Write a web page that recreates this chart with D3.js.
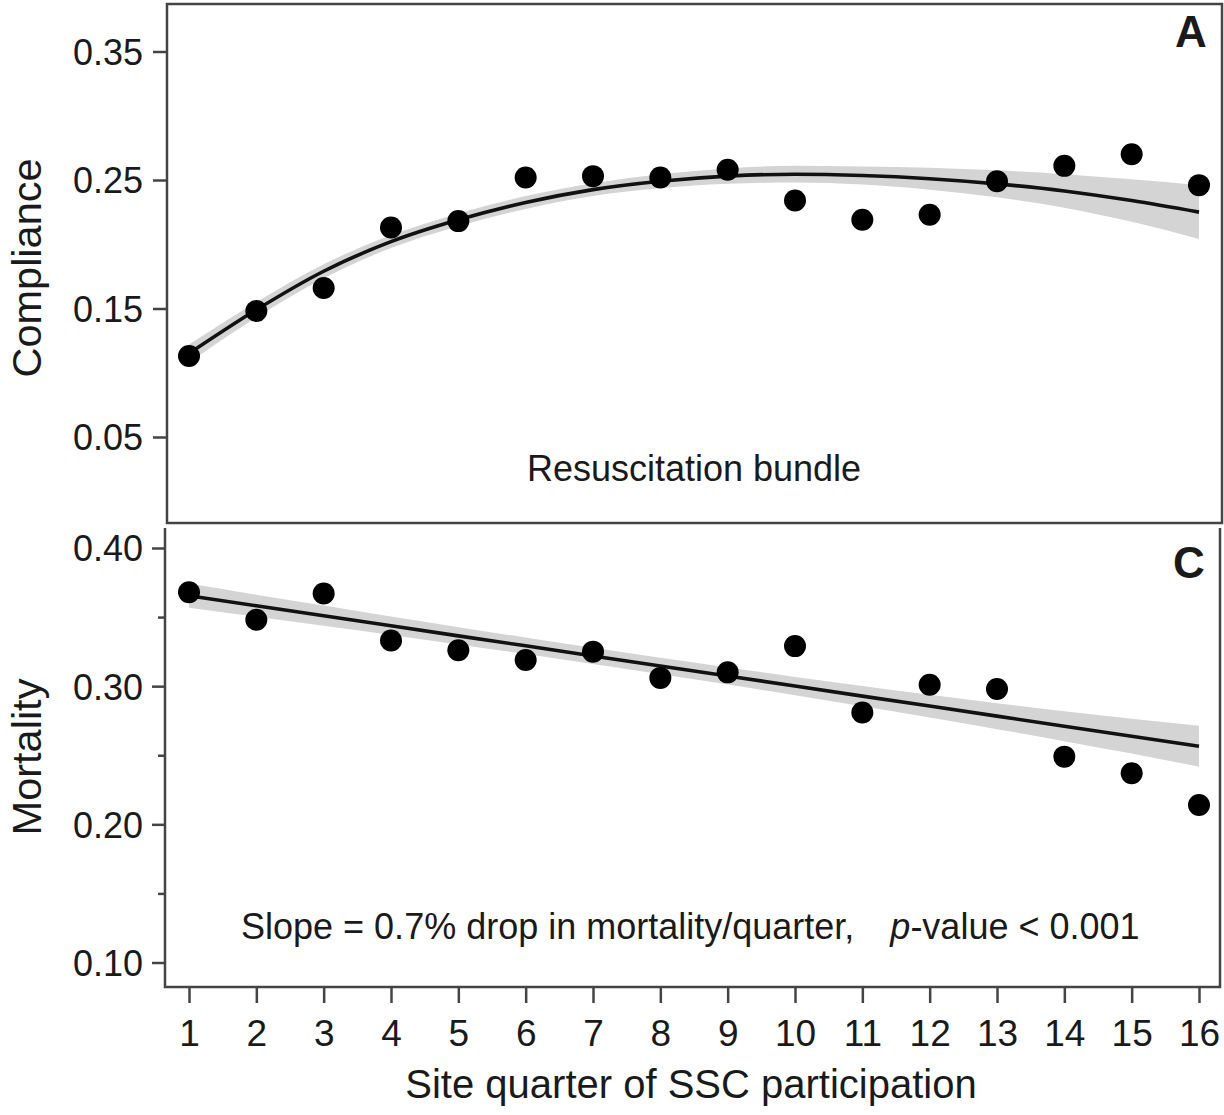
<!DOCTYPE html>
<html><head><meta charset="utf-8">
<script src="https://cdn.jsdelivr.net/npm/d3@7/dist/d3.min.js"></script>
<style>
body{margin:0;background:#fff}
text{font-family:"Liberation Sans",Arial,Helvetica,sans-serif;fill:#1a1a1a}
</style>
</head><body>
<svg id="chart" width="1224" height="1115"></svg>
<script>
// ---------- data ----------
const quarters = [1,2,3,4,5,6,7,8,9,10,11,12,13,14,15,16];
const complianceObserved = [0.113,0.148,0.166,0.213,0.218,0.252,0.253,0.252,0.258,0.234,0.219,0.223,0.249,0.261,0.270,0.246];
const complianceFit      = [0.115,0.149,0.179,0.202,0.219,0.2325,0.2425,0.249,0.253,0.2545,0.2535,0.251,0.247,0.2415,0.234,0.225];
const complianceBandHalf = [0.007,0.006,0.0055,0.005,0.005,0.005,0.005,0.0055,0.006,0.0065,0.007,0.0085,0.0105,0.013,0.0165,0.021];
const mortalityObserved  = [0.368,0.348,0.367,0.333,0.326,0.319,0.325,0.306,0.310,0.329,0.281,0.301,0.298,0.249,0.237,0.214];
const mortalityFit       = [0.3655,0.3582,0.3510,0.3437,0.3364,0.3292,0.3219,0.3146,0.3074,0.3001,0.2928,0.2856,0.2783,0.2710,0.2638,0.2565];
const mortalityBandHalf  = [0.0088,0.0080,0.0073,0.0067,0.0063,0.0060,0.0059,0.0060,0.0062,0.0066,0.0073,0.0082,0.0094,0.0108,0.0126,0.0148];
const complianceTicks = [0.05,0.15,0.25,0.35];
const mortalityTicks = [0.10,0.20,0.30,0.40];
const mortalityMinorTicks = [0.15,0.25,0.35];
const xTitle = "Site quarter of SSC participation";
const topTitle = "Compliance";
const bottomTitle = "Mortality";
const topNote = "Resuscitation bundle";

// ---------- layout ----------
const svg = d3.select("#chart");
const F = '"Liberation Sans",Arial,Helvetica,sans-serif';
const x = d3.scaleLinear().domain([1,16]).range([189,1199]);
const yTop = d3.scaleLinear().domain([0.05,0.35]).range([437,51.5]);
const yBot = d3.scaleLinear().domain([0.10,0.40]).range([962.5,548]);

function panel(yScale, obs, fit, half, curve){
  const g = svg.append("g");
  const rows = quarters.map((q,i)=>({q, o:obs[i], f:fit[i], h:half[i]}));
  g.append("path").datum(rows)
    .attr("d", d3.area().x(d=>x(d.q)).y0(d=>yScale(d.f-d.h)).y1(d=>yScale(d.f+d.h)).curve(d3.curveMonotoneX))
    .attr("fill","#d4d4d4");
  g.append("path").datum(rows)
    .attr("d", d3.line().x(d=>x(d.q)).y(d=>yScale(d.f)).curve(curve))
    .attr("fill","none").attr("stroke","#111").attr("stroke-width",3.6);
  g.selectAll("circle").data(rows).join("circle")
    .attr("cx",d=>x(d.q)).attr("cy",d=>yScale(d.o)).attr("r",11).attr("fill","#000");
}

// ---------- top panel ----------
svg.append("rect").attr("x",167).attr("y",4).attr("width",1055).attr("height",519)
  .attr("fill","none").attr("stroke","#444").attr("stroke-width",2.5);
panel(yTop, complianceObserved, complianceFit, complianceBandHalf, d3.curveMonotoneX);
const axT = svg.append("g").attr("transform","translate(167,0)")
  .call(d3.axisLeft(yTop).tickValues(complianceTicks).tickFormat(d3.format(".2f")).tickSize(14).tickPadding(10));
axT.select(".domain").remove();
axT.selectAll("line").attr("stroke","#444").attr("stroke-width",2.5);
axT.selectAll("text").attr("font-size",36).attr("font-family",F).attr("fill","#1a1a1a").attr("dy","0.36em");

svg.append("text").attr("transform","translate(41,268) rotate(-90)").attr("text-anchor","middle")
  .attr("font-size",41.5).text(topTitle);
svg.append("text").attr("x",694).attr("y",481).attr("text-anchor","middle").attr("font-size",36).text(topNote);
svg.append("text").attr("x",1191).attr("y",47).attr("text-anchor","middle").attr("font-size",44).attr("font-weight","bold").text("A");

// ---------- bottom panel ----------
svg.append("path").attr("d","M165,528 V987 H1220 V528").attr("fill","none").attr("stroke","#444").attr("stroke-width",2.5);
panel(yBot, mortalityObserved, mortalityFit, mortalityBandHalf, d3.curveLinear);
const axB = svg.append("g").attr("transform","translate(165,0)")
  .call(d3.axisLeft(yBot).tickValues(mortalityTicks).tickFormat(d3.format(".2f")).tickSize(13).tickPadding(9));
axB.select(".domain").remove();
axB.selectAll("line").attr("stroke","#444").attr("stroke-width",2.5);
axB.selectAll("text").attr("font-size",36).attr("font-family",F).attr("fill","#1a1a1a").attr("dy","0.36em");
const axBm = svg.append("g").attr("transform","translate(165,0)")
  .call(d3.axisLeft(yBot).tickValues(mortalityMinorTicks).tickFormat("").tickSize(7));
axBm.select(".domain").remove();
axBm.selectAll("line").attr("stroke","#444").attr("stroke-width",2.5);

const axX = svg.append("g").attr("transform","translate(0,987)")
  .call(d3.axisBottom(x).tickValues(quarters).tickFormat(d3.format("d")).tickSize(16).tickPadding(17));
axX.select(".domain").remove();
axX.selectAll("line").attr("stroke","#444").attr("stroke-width",2.5);
axX.selectAll("text").attr("font-size",37).attr("font-family",F).attr("fill","#1a1a1a");

svg.append("text").attr("transform","translate(41,757) rotate(-90)").attr("text-anchor","middle")
  .attr("font-size",41.5).text(bottomTitle);
svg.append("text").attr("x",691).attr("y",1098).attr("text-anchor","middle").attr("font-size",40).text(xTitle);
svg.append("text").attr("x",1189).attr("y",578).attr("text-anchor","middle").attr("font-size",44).attr("font-weight","bold").text("C");

const note = svg.append("text").attr("x",241).attr("y",939).attr("font-size",36);
note.append("tspan").text("Slope = 0.7% drop in mortality/quarter,");
note.append("tspan").attr("dx",36).attr("font-style","italic").text("p");
note.append("tspan").text("-value < 0.001");
</script>
</body></html>
